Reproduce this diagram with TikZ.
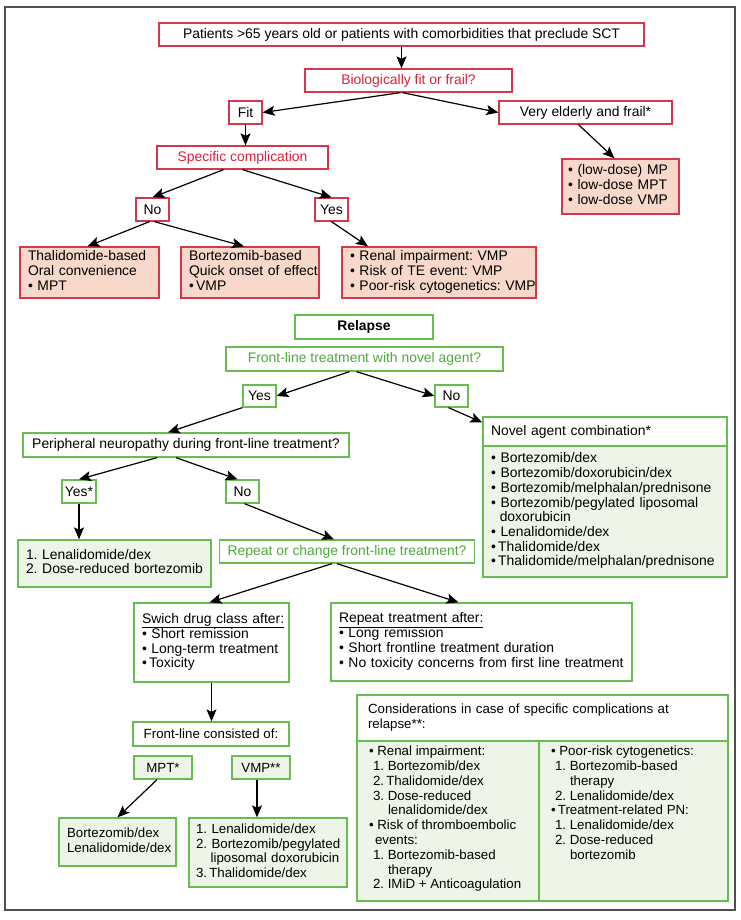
\documentclass[tikz,border=0pt]{standalone}
\usepackage{fontspec}
\setmainfont{Liberation Sans}
\usepackage{tikz}
\usetikzlibrary{arrows.meta}
\definecolor{redline}{RGB}{212,54,76}
\definecolor{redtext}{RGB}{222,30,60}
\definecolor{salmon}{RGB}{247,216,202}
\definecolor{greenline}{RGB}{104,188,80}
\definecolor{greentext}{RGB}{78,170,58}
\definecolor{greenfill}{RGB}{239,244,232}
\definecolor{frameline}{RGB}{80,80,80}
\newcommand{\boxlines}[1]{\begin{tabular}{@{}l@{}}#1\end{tabular}}
\frenchspacing

\begin{document}
\begin{tikzpicture}[x=1pt, y=-1pt,
      every node/.style={color=black, font=\fontsize{13.9}{14.7}\selectfont},
      small text/.style={font=\fontsize{13.3}{14.8}\selectfont},
      plain box/.style={draw, line width=1.3pt, fill=white, inner xsep=8pt, inner ysep=3pt, minimum height=23pt},
      red box/.style={plain box, draw=redline},
      red tag/.style={red box, inner xsep=3pt, minimum width=33pt},
      red question/.style={red box, text=redtext},
      red result/.style={red box, fill=salmon, align=left},
      green box/.style={plain box, draw=greenline},
      green tag/.style={green box, inner xsep=3pt, minimum width=33pt},
      green question/.style={green box, text=greentext},
      green result/.style={green box, fill=greenfill, align=left},
      normal/.style={line width=1.2pt, -{Stealth[length=12pt, width=10pt, inset=2.5pt]}},
      ]
      \useasboundingbox (0,0) rectangle (740,920);
      \draw[frameline, line width=2pt] (5,7) rectangle (735,910);

      % first line
      \node[red box, minimum width=485pt] (Patients) at (401.5,34.5) {Patients >65 years old or patients with comorbidities that preclude SCT};
      \node[red question, minimum width=207pt] (FitFrail) at (408.5,80.5) {Biologically fit or frail?};
      \node[red tag] (Fit) at (245.5,112.5) {Fit};
      \node[red box, minimum width=173pt] (Frail) at (585.5,112.5) {Very elderly and frail*};
      \node[red question, minimum width=171pt] (SpecComp) at (242.5,157.5) {Specific complication};
      \node[red result, inner xsep=6pt, text width=105pt, minimum height=55pt] (FrailTx) at (620.5,186.5) {\boxlines{• (low-dose) MP\\• low-dose MPT\\• low-dose VMP}};
      \node[red tag] (NoComp) at (152.5,209.5) {No};
      \node[red tag] (YesComp) at (331.5,209.5) {Yes};
      \node[red result, text width=123pt, minimum height=51pt] (ThalTx) at (89.5,272.5) {\boxlines{Thalidomide-based\\Oral convenience\\• MPT}};
      \node[red result, text width=122pt, minimum height=51pt] (BortTx) at (250,272.5) {\boxlines{Bortezomib-based\\Quick onset of effect\\•\,VMP}};
      \node[red result, text width=178pt, minimum height=51pt] (CompTx) at (439,272.5) {\boxlines{• Renal impairment: VMP\\• Risk of TE event: VMP\\• Poor-risk cytogenetics: VMP}};

      \draw[normal] (Patients.south) -- (Patients.south |- FitFrail.north);
      \draw[normal] ([xshift=-8pt]FitFrail.south) -- (Fit.east);
      \draw[normal] ([xshift=-6pt]FitFrail.south) -- (Frail.west);
      \draw[normal] ([xshift=-7pt]Frail.south) -- ([xshift=-6pt]FrailTx.north);
      \draw[normal] (Fit.south) -- (Fit.south |- SpecComp.north);
      \draw[normal] ([xshift=-19pt]SpecComp.south) -- (NoComp.north);
      \draw[normal] (SpecComp.south) -- (YesComp.north);
      \draw[normal] ([xshift=-3pt]NoComp.south) -- ([xshift=-2pt]ThalTx.north);
      \draw[normal] ([xshift=2pt]NoComp.south) -- ([xshift=-6pt]BortTx.north);
      \draw[normal] (YesComp.south) -- ([xshift=-71pt]CompTx.north);

      % relapse
      \node[green box, minimum width=138pt, minimum height=24pt] (Relapse) at (364,327) {\textbf{Relapse}};
      \node[green question, minimum width=277pt, minimum height=24pt] (NovelQ) at (364.5,359) {Front-line treatment with novel agent?};
      \node[green tag, minimum height=22pt] (NovelYes) at (259.5,396) {Yes};
      \node[green tag, minimum height=22pt] (NovelNo) at (451.5,396) {No};
      \node[green box, minimum width=326pt, minimum height=24pt] (Neuro) at (186,445) {Peripheral neuropathy during front-line treatment?};
      \node[green box, align=left, text width=228pt, minimum height=29pt] (NovelHead) at (605,431.5) {Novel agent combination*};
      \node[green result, text width=228pt, minimum height=131pt] (NovelList) at (605,511.5) {\boxlines{• Bortezomib/dex\\• Bortezomib/doxorubicin/dex\\• Bortezomib/melphalan/prednisone\\• Bortezomib/pegylated liposomal\\\hspace*{0.63em}doxorubicin\\• Lenalidomide/dex\\•\,Thalidomide/dex\\•\,Thalidomide/melphalan/prednisone}};
      \node[green tag, minimum width=34pt] (NeuroYes) at (79,491.5) {Yes*};
      \node[green tag] (NeuroNo) at (242.5,491.5) {No};
      \node[green result, text width=177pt, minimum height=47pt] (NeuroTx) at (114.5,563.5) {\boxlines{1. Lenalidomide/dex\\2. Dose-reduced bortezomib}};
      \node[green question, minimum width=242pt] (RepeatQ) at (347,551.5) {Repeat or change front-line treatment?};
      \node[green box, align=left, text width=139pt, minimum height=79pt] (Switch) at (211.5,642.5) {\boxlines{\underline{Swich drug class after:}\\• Short remission\\• Long-term treatment\\•\,Toxicity}};
      \node[green box, align=left, text width=285pt, minimum height=78pt] (Repeat) at (481.5,642) {\boxlines{\underline{Repeat treatment after:}\\• Long remission\\• Short frontline treatment duration\\• No toxicity concerns from first line treatment}};
      \node[green box, small text, minimum width=156pt, minimum height=24pt] (FrontLine) at (211,734) {Front-line consisted of:};
      \node[green result, small text, minimum width=58pt] (MPT) at (163,767.5) {MPT*};
      \node[green result, small text, minimum width=58pt] (VMP) at (261,767.5) {VMP**};
      \node[green result, small text, text width=101pt, minimum height=48pt] (MPTTx) at (117.5,842) {\boxlines{Bortezomib/dex\\Lenalidomide/dex}};
      \node[green result, small text, inner xsep=7pt, text width=144pt, minimum height=69pt] (VMPTx) at (268,852.5) {\boxlines{1. Lenalidomide/dex\\2. Bortezomib/pegylated\\\hspace*{1.1em}liposomal doxorubicin\\3.\,Thalidomide/dex}};

      % complications at relapse
      \node[green box, small text, align=left, inner xsep=11pt, text width=349pt, minimum height=46pt] (ConsHead) at (542.5,718) {\boxlines{Considerations in case of specific complications at\\relapse**:}};
      \node[green result, small text, inner xsep=12pt, inner ysep=5pt] (ConsLeft) at (448,821) {\parbox[t][150pt][t]{158pt}{\raggedright
        • Renal impairment:\\
        \hspace*{4pt}1. Bortezomib/dex\\
        \hspace*{4pt}2.\,Thalidomide/dex\\
        \hspace*{4pt}3. Dose-reduced\\
        \hspace*{19pt}lenalidomide/dex\\
        • Risk of thromboembolic\\
        \hspace*{6pt}events:\\
        \hspace*{4pt}1. Bortezomib-based\\
        \hspace*{19pt}therapy\\
        \hspace*{4pt}2. IMiD + Anticoagulation}};
      \node[green result, small text, inner xsep=12pt, inner ysep=5pt] (ConsRight) at (633.5,821) {\parbox[t][150pt][t]{165pt}{\raggedright
        • Poor-risk cytogenetics:\\
        \hspace*{4pt}1. Bortezomib-based\\
        \hspace*{19pt}therapy\\
        \hspace*{4pt}2. Lenalidomide/dex\\
        •\,Treatment-related PN:\\
        \hspace*{4pt}1. Lenalidomide/dex\\
        \hspace*{4pt}2. Dose-reduced\\
        \hspace*{19pt}bortezomib}};

      \draw[normal] ([xshift=-15pt]NovelQ.south) -- (NovelYes.east);
      \draw[normal] ([xshift=-8pt]NovelQ.south) -- (NovelNo.west);
      \draw[normal] (NovelYes.south west) -- ([xshift=-18pt]Neuro.north);
      \draw[normal] ([xshift=-3pt]NovelNo.south) -- ([yshift=9pt]NovelHead.west);
      \draw[normal] ([xshift=-29pt]Neuro.south) -- (NeuroYes.north);
      \draw[normal] ([xshift=-10pt]Neuro.south) -- ([xshift=-5pt]NeuroNo.north);
      \draw[normal] (NeuroYes.south) -- (NeuroYes.south |- NeuroTx.north);
      \draw[normal] ([xshift=2pt]NeuroNo.south) -- ([xshift=-13pt]RepeatQ.north);
      \draw[normal] ([xshift=-15pt]RepeatQ.south) -- ([xshift=-2pt]Switch.north);
      \draw[normal] ([xshift=-10pt]RepeatQ.south) -- ([xshift=-23pt]Repeat.north);
      \draw[normal] (Switch.south) -- (Switch.south |- FrontLine.north);
      \draw[normal] ([xshift=-6pt]MPT.south) -- (MPTTx.north);
      \draw[normal] ([xshift=-4pt]VMP.south) -- ([xshift=-4pt]VMP.south |- VMPTx.north);
    \end{tikzpicture}
\end{document}
